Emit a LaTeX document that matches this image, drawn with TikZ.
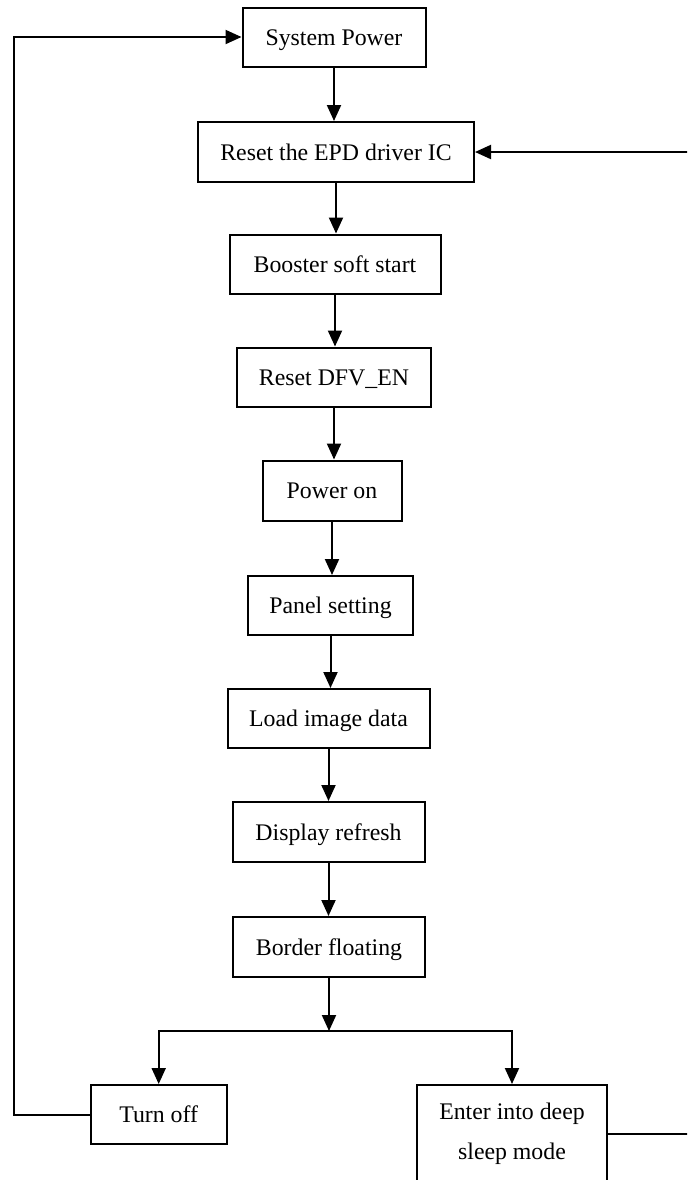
\documentclass[tikz,border=0pt]{standalone}
\usepackage{fontspec}
\setmainfont{Liberation Serif}
\usetikzlibrary{arrows.meta,calc}
\begin{document}
\begin{tikzpicture}[x=0.5pt,y=-0.5pt,
  box/.style={draw=black,line width=1pt,fill=white,inner sep=0pt,
    font=\fontsize{11.9}{20}\selectfont,align=center},
  one/.style={text height=8.2pt,text depth=0pt},
  conn/.style={draw=black,line width=1pt},
  arr/.style={conn,-{Triangle[length=8pt,width=7pt]}}]
\clip (0,0) rectangle (687,1180);
\fill[white] (0,0) rectangle (687,1180);
\node[box,one,minimum width=91.5pt,minimum height=29.5pt] (sys) at (334,37) {System Power};
\node[box,one,minimum width=138pt,minimum height=30pt] (rst) at (336,152) {Reset the EPD driver IC};
\node[box,one,minimum width=105.5pt,minimum height=29.5pt] (boost) at (335,264) {Booster soft start};
\node[box,one,minimum width=97pt,minimum height=29.5pt] (dfv) at (334,377) {Reset DFV\_EN};
\node[box,one,minimum width=69.5pt,minimum height=30pt] (pon) at (332,490.5) {Power on};
\node[box,one,minimum width=82.5pt,minimum height=29.5pt] (panel) at (330.5,605.5) {Panel setting};
\node[box,one,minimum width=101pt,minimum height=29.5pt] (load) at (328.5,718.5) {Load image data};
\node[box,one,minimum width=96pt,minimum height=30pt] (disp) at (328.5,832) {Display refresh};
\node[box,one,minimum width=96pt,minimum height=30pt] (border) at (329,947) {Border floating};
\node[box,one,minimum width=68pt,minimum height=29.5pt] (off) at (158.7,1114.5) {Turn off};
\node[box,minimum width=95pt,minimum height=49pt] (deep) at (512,1134) {Enter into deep\\sleep mode};
\coordinate (j) at (331,1031);
\coordinate (lx) at (14,600);
\coordinate (rx) at (700,600);
\draw[arr] (sys.south) -- (sys.south |- rst.north);
\draw[arr] (rst.south) -- (rst.south |- boost.north);
\draw[arr] (boost.south) -- (boost.south |- dfv.north);
\draw[arr] (dfv.south) -- (dfv.south |- pon.north);
\draw[arr] (pon.south) -- (pon.south |- panel.north);
\draw[arr] (panel.south) -- (panel.south |- load.north);
\draw[arr] (load.south) -- (load.south |- disp.north);
\draw[arr] (disp.south) -- (disp.south |- border.north);
\draw[arr] (border.south) -- (border.south |- j);
\draw[arr] (j) -| (off.north);
\draw[arr] (j) -| (deep.north);
\draw[arr] (off.west) -| (lx) |- (sys.west);
\draw[arr] (deep.east) -| (rx) |- (rst.east);
\end{tikzpicture}
\end{document}
